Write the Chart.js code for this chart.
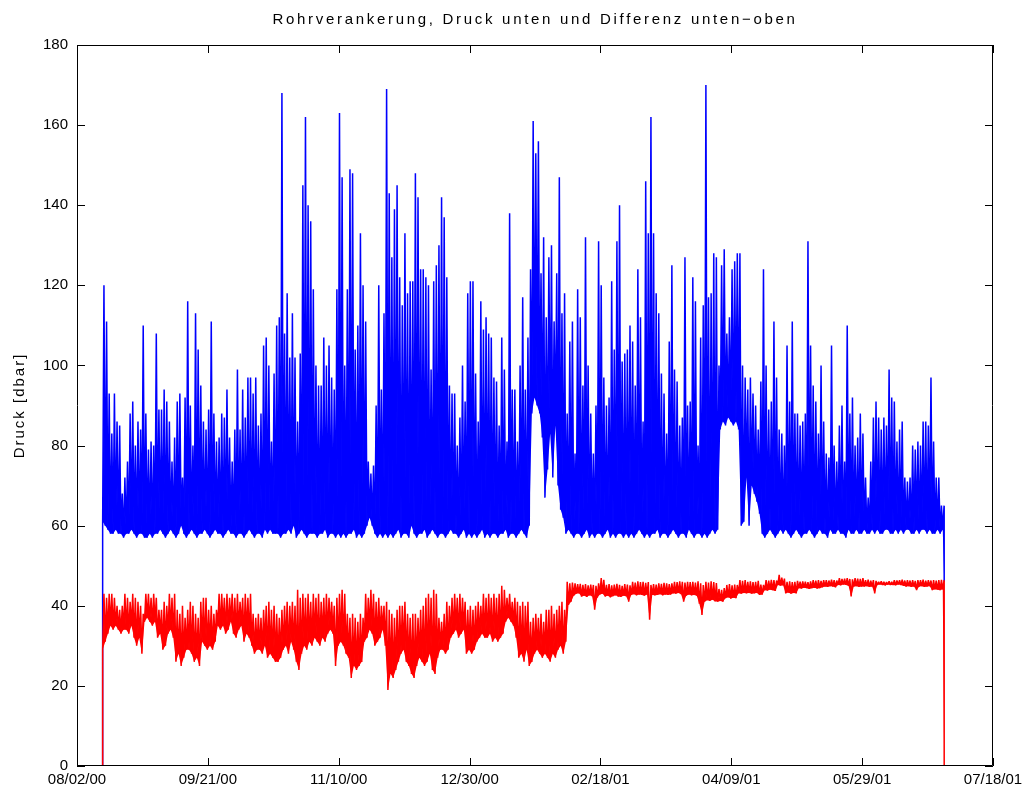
<!DOCTYPE html>
<html>
<head>
<meta charset="utf-8">
<script src="https://cdn.jsdelivr.net/npm/chart.js@4.4.1/dist/chart.umd.min.js"></script>
<style>
  html, body { margin: 0; padding: 0; background: #fff; }
</style>
</head>
<body>
<canvas id="chart" width="1034" height="800"></canvas>
<script>
// x axis: days since 08/02/00, one tick every 50 days
const xTicks = [0, 50, 100, 150, 200, 250, 300, 350];
const tickLabels = ['08/02/00', '09/21/00', '11/10/00', '12/30/00', '02/18/01', '04/09/01', '05/29/01', '07/18/01'];

const titleText = 'Rohrverankerung, Druck unten und Differenz unten\u2212oben';
const yTitle = 'Druck [dbar]';

// first sample day (days after 08/02/00), one min/max pair per day after that
const firstDay = 9.8;

// Druck unten: daily max / daily min [dbar]
const pressureHigh = [
  120,111,93,83,93,86,85,68,72,76,
  88,91,80,86,84,110,88,79,81,80,
  108,89,89,94,91,86,76,82,91,93,
  72,92,116,90,80,113,104,95,86,84,
  89,111,88,81,82,88,87,94,82,76,
  84,99,84,94,87,97,97,93,97,85,
  88,105,107,100,81,98,110,112,168,108,
  118,102,113,102,86,103,145,162,140,136,
  119,100,95,95,107,100,105,97,94,119,
  163,147,100,119,149,148,104,110,133,120,
  111,76,73,75,90,120,94,113,169,143,
  127,139,145,122,115,133,118,121,121,148,
  142,124,124,122,120,99,121,125,130,142,
  137,122,95,93,93,80,87,100,91,118,
  121,121,98,86,116,109,112,108,107,97,
  96,85,107,99,81,138,94,94,81,100,
  117,94,107,124,161,153,156,123,132,112,
  127,130,111,123,147,113,118,88,106,111,
  78,119,112,95,132,100,88,78,90,131,
  120,97,90,92,121,104,131,140,101,103,
  104,110,106,95,124,112,86,146,133,162,
  133,118,113,98,93,83,106,125,99,96,
  85,87,127,90,91,122,116,80,107,115,
  170,117,118,128,127,100,125,129,108,112,
  124,126,128,128,100,97,94,97,93,90,
  84,96,124,100,89,91,111,97,84,83,
  80,105,91,111,88,88,85,86,88,131,
  105,95,91,83,100,86,78,77,105,80,
  76,85,90,76,110,88,92,80,82,88,
  83,72,67,76,87,91,87,84,87,85,
  99,92,91,81,84,86,72,71,72,80,
  79,81,80,86,86,85,97,81,72,72,
  65,65
];
const pressureLow = [
  61,60,59,58,58,59,58,58,57,58,
  58,59,58,57,58,58,57,57,58,57,
  58,58,59,58,57,58,59,58,57,58,
  60,58,57,58,59,58,57,58,58,59,
  58,57,58,59,58,58,57,58,59,58,
  58,57,58,58,57,58,59,58,57,58,
  58,57,59,58,59,58,58,58,57,58,
  58,59,58,60,57,58,59,58,57,58,
  58,58,57,58,58,59,57,58,58,57,
  58,57,58,57,58,58,59,57,58,57,
  58,60,62,60,58,57,58,57,58,57,
  58,57,58,59,57,58,58,57,60,58,
  57,58,58,59,57,58,59,58,57,58,
  58,57,58,59,58,58,57,58,59,57,
  58,57,58,57,58,59,57,58,57,58,
  58,57,58,58,59,57,58,58,57,58,
  59,58,57,60,88,92,90,88,82,67,
  74,83,72,85,70,64,62,58,59,58,
  57,58,58,57,58,59,57,58,57,58,
  58,57,58,59,57,58,57,58,58,57,
  58,57,58,57,58,59,58,57,58,57,
  58,58,59,57,58,58,57,58,59,58,
  57,58,58,57,59,58,57,58,58,57,
  58,57,58,59,58,59,84,86,85,87,
  86,85,86,84,60,61,72,60,70,68,
  66,63,58,57,58,59,58,57,58,59,
  58,59,58,57,58,59,58,57,58,58,
  59,58,57,58,59,58,58,57,59,58,
  58,59,58,58,57,59,58,58,59,58,
  58,59,58,58,59,58,59,58,58,59,
  59,58,58,59,58,59,58,59,59,58,
  58,59,58,59,59,58,59,58,58,59,
  58,59
];

// Differenz unten-oben: daily max / daily min [dbar]
const diffHigh = [
  43,42,43,43,42,40,39,40,43,42,
  41,43,42,41,40,38,43,43,42,43,
  42,39,39,41,40,43,42,43,39,38,
  40,37,39,41,40,38,37,41,42,42,
  39,40,38,39,43,43,42,43,42,43,
  42,43,41,42,43,42,43,38,37,38,
  37,39,40,41,39,40,38,37,39,40,
  41,40,41,40,44,42,43,42,43,41,
  43,42,43,41,42,43,42,
  41,40,42,43,44,43,38,37,38,37,
  36,38,37,43,42,44,43,41,42,40,
  40,41,39,38,37,39,40,40,41,38,
  37,38,38,37,39,40,42,43,42,44,
  43,37,36,38,41,40,42,43,42,43,
  42,41,39,40,39,40,41,40,43,42,
  43,42,43,42,43,45,44,42,43,41,
  42,41,40,41,40,41,36,37,38,37,
  38,36,39,39,40,38,39,40,41,39,
  46,
  45.6,45.8,45.6,45.4,45.5,45.2,45.4,45.1,45.3,45.2,
  45.0,45.6,46.9,46.5,45.2,45.4,45.1,45.3,45.5,45.2,
  45.0,45.4,45.3,45.1,46.0,45.8,46.1,45.9,46.0,45.7,
  45.9,45.2,45.4,45.3,45.6,45.5,45.7,45.6,45.4,45.6,
  46.0,45.9,46.1,46.0,45.8,46.0,45.9,46.0,45.8,46.1,
  45.6,45.2,46.0,45.8,46.1,45.9,45.7,44.2,44.0,44.4,
  45.2,45.4,45.1,45.3,45.2,46.4,46.2,46.4,46.0,46.1,
  45.9,46.0,46.2,45.3,45.2,46.4,46.3,46.5,46.4,46.3,
  47.7,47.0,46.8,46.0,46.1,45.9,46.0,46.2,46.0,46.1,
  46.0,45.9,46.1,46.4,46.3,46.4,46.2,46.4,46.4,46.3,
  46.5,46.4,46.3,46.9,46.7,46.8,46.9,46.7,46.6,46.9,
  46.8,46.7,46.9,46.4,46.5,46.3,46.4,46.2,46.0,46.1,
  46.0,45.9,46.1,46.0,46.4,46.3,46.4,46.5,46.3,46.4,
  46.3,46.4,46.2,46.4,46.4,46.5,46.3,46.4,46.3,46.4,
  46.3,46.4,46.5,46.4
];
const diffLow = [
  29,31,33,35,34,35,34,33,34,34,
  33,35,32,30,32,28,36,37,36,35,
  36,32,33,29,30,33,34,32,26,28,
  25,27,29,29,28,26,27,25,31,30,
  29,30,29,31,35,34,35,33,34,36,
  33,32,34,35,31,33,32,30,28,29,
  29,28,30,27,28,27,26,26,27,29,
  30,28,31,29,26,24,28,30,29,31,
  30,32,31,30,32,31,33,
  34,33,25,30,31,30,28,27,22,25,
  24,25,26,31,32,34,33,30,31,32,
  34,30,19,23,22,24,26,28,29,26,
  25,23,22,25,27,26,25,26,28,24,
  23,27,29,29,28,29,32,33,34,32,
  33,34,28,29,28,29,31,32,33,32,
  32,33,31,32,31,32,33,36,37,36,
  35,32,27,28,26,29,25,26,28,29,
  28,27,28,27,26,28,27,29,30,28,
  31,
  40.2,41.0,42.5,43.0,43.1,42.3,42.5,42.2,42.6,42.4,
  39.0,42.0,42.8,43.0,42.3,42.5,42.1,42.4,42.6,42.3,
  42.2,42.5,42.4,41.0,42.7,42.9,42.6,42.8,42.7,42.5,
  42.8,36.5,42.7,42.6,42.7,42.9,42.6,42.8,42.7,42.8,
  43.1,43.0,43.2,42.9,41.0,42.5,42.8,42.6,42.7,42.5,
  40.5,37.7,41.0,41.4,41.2,41.5,41.1,41.0,41.2,41.0,
  41.9,42.1,41.8,42.0,41.9,43.1,43.0,43.2,43.1,43.2,
  43.0,43.1,43.2,42.7,42.8,43.9,43.8,44.0,43.9,43.7,
  45.2,45.0,45.1,43.1,43.3,43.0,43.2,43.1,44.4,44.3,
  44.5,44.4,44.2,44.4,44.5,44.3,44.4,44.6,44.8,44.7,
  44.9,44.8,44.6,45.2,45.1,45.3,45.2,45.0,42.3,44.8,
  44.9,44.7,44.8,44.8,44.9,44.7,44.8,43.1,45.2,45.3,
  45.2,45.1,45.3,45.2,45.2,45.1,45.3,45.2,45.0,44.8,
  44.9,44.7,44.8,43.9,44.8,44.9,44.7,44.8,44.9,43.9,
  44.1,44.0,43.9,44.1
];

// values at the very start and end of the record
const pressureStart = 0, pressureEnd = 46;
const diffStart = 0, diffEnd = 0;

// zigzag through the daily min and max values
function buildTrace(low, high, startVal, endVal) {
  const pts = [{ x: firstDay, y: startVal }];
  low.forEach((lo, i) => {
    pts.push({ x: firstDay + i, y: lo });
    pts.push({ x: firstDay + i + 0.5, y: high[i] });
  });
  pts.push({ x: firstDay + low.length - 0.45, y: endVal });
  return pts;
}

// the daily minima only, used as the lower edge of the filled band
function buildFloor(low, startVal, endVal) {
  const pts = [{ x: firstDay, y: startVal }];
  low.forEach((lo, i) => pts.push({ x: firstDay + i, y: lo }));
  pts.push({ x: firstDay + low.length - 0.45, y: endVal });
  return pts;
}

// the old plot has wide letter spacing in the title and axis label
const spacedText = { [titleText]: '2.7px', [yTitle]: '2px' };
const letterSpacing = {
  id: 'letterSpacing',
  afterInit(chart) {
    const ctx = chart.ctx;
    const fill = ctx.fillText.bind(ctx);
    ctx.fillText = function (t, x, y, w) {
      const sp = spacedText[t];
      if (!sp) return w === undefined ? fill(t, x, y) : fill(t, x, y, w);
      const prev = ctx.letterSpacing;
      ctx.letterSpacing = sp;
      if (w === undefined) fill(t, x, y); else fill(t, x, y, w);
      ctx.letterSpacing = prev;
    };
  }
};

// matlab style box with inward ticks on all four sides
const boxTicks = {
  id: 'boxTicks',
  afterDraw(chart) {
    const { ctx, chartArea: a, scales: { x, y } } = chart;
    const len = 8;
    ctx.save();
    ctx.strokeStyle = '#000';
    ctx.lineWidth = 1;
    ctx.beginPath();
    ctx.rect(a.left + 0.5, a.top + 0.5, a.right - a.left - 1, a.bottom - a.top - 1);
    x.ticks.forEach(t => {
      const px = Math.round(x.getPixelForValue(t.value)) + 0.5;
      ctx.moveTo(px, a.bottom); ctx.lineTo(px, a.bottom - len);
      ctx.moveTo(px, a.top); ctx.lineTo(px, a.top + len);
    });
    y.ticks.forEach(t => {
      const py = Math.round(y.getPixelForValue(t.value)) + 0.5;
      ctx.moveTo(a.left, py); ctx.lineTo(a.left + len, py);
      ctx.moveTo(a.right, py); ctx.lineTo(a.right - len, py);
    });
    ctx.stroke();
    ctx.restore();
  }
};

Chart.defaults.font.family = '"Liberation Sans", Arial, Helvetica, sans-serif';
Chart.defaults.color = '#000';

const blue = '#0000ff';
const red = '#ff0000';

new Chart(document.getElementById('chart'), {
  type: 'line',
  data: {
    datasets: [{
      label: 'Druck unten',
      data: buildTrace(pressureLow, pressureHigh, pressureStart, pressureEnd),
      borderColor: blue,
      backgroundColor: blue,
      borderWidth: 1.5,
      fill: 1,
      order: 2
    }, {
      label: 'Druck unten min',
      data: buildFloor(pressureLow, pressureStart, pressureEnd),
      borderColor: 'rgba(0,0,0,0)',
      borderWidth: 1,
      fill: false,
      order: 3
    }, {
      label: 'Differenz unten-oben',
      data: buildTrace(diffLow, diffHigh, diffStart, diffEnd),
      borderColor: red,
      backgroundColor: red,
      borderWidth: 1.5,
      fill: 3,
      order: 0
    }, {
      label: 'Differenz min',
      data: buildFloor(diffLow, diffStart, diffEnd),
      borderColor: 'rgba(0,0,0,0)',
      borderWidth: 1,
      fill: false,
      order: 1
    }]
  },
  options: {
    responsive: false,
    animation: false,
    devicePixelRatio: 1,
    layout: { padding: { left: 0, right: 41, top: 0, bottom: 0 } },
    elements: {
      point: { radius: 0 },
      line: { tension: 0, borderJoinStyle: 'bevel' }
    },
    plugins: {
      legend: { display: false },
      tooltip: { enabled: false },
      filler: { propagate: false },
      title: {
        display: true,
        fullSize: false,
        text: titleText,
        font: { size: 15, weight: 'normal' },
        padding: { top: 11, bottom: 16 }
      }
    },
    scales: {
      x: {
        type: 'linear',
        min: 0,
        max: 350,
        afterBuildTicks: s => { s.ticks = xTicks.map(v => ({ value: v })); },
        afterFit: s => { s.height = 34; },
        grid: { display: false, drawTicks: false },
        border: { display: false },
        ticks: {
          autoSkip: false,
          maxRotation: 0,
          padding: 5,
          font: { size: 15 },
          callback: (v) => tickLabels[xTicks.indexOf(v)]
        }
      },
      y: {
        min: 0,
        max: 180,
        afterFit: s => { s.width = 77; },
        grid: { display: false, drawTicks: false },
        border: { display: false },
        ticks: { stepSize: 20, padding: 9, font: { size: 15 } },
        title: {
          display: true,
          text: yTitle,
          font: { size: 15 },
          padding: { top: 11, bottom: 0 }
        }
      }
    }
  },
  plugins: [letterSpacing, boxTicks]
});
</script>
</body>
</html>
